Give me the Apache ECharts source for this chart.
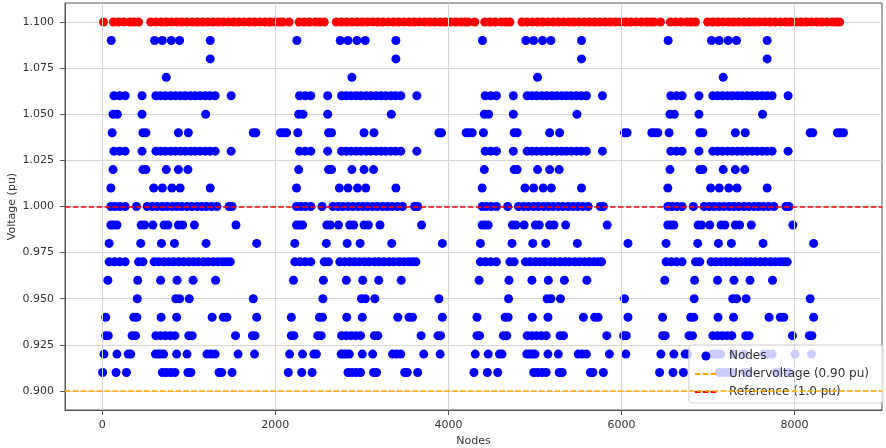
<!DOCTYPE html>
<html>
<head>
<meta charset="utf-8">
<script src="https://cdn.jsdelivr.net/npm/echarts@6/dist/echarts.min.js"></script>
<style>
html,body{margin:0;padding:0;background:#fff;}
#chart{width:886px;height:448px;}
</style>
</head>
<body>
<div id="chart"></div>
<script>
// ---- Data (node index positions, per voltage level) ----
const xTicks = [0, 2000, 4000, 6000, 8000];
const yTicks = [0.900, 0.925, 0.950, 0.975, 1.000, 1.025, 1.050, 1.075, 1.100];

const undervoltage = 0.90;
const reference = 1.0;

// nodes at 1.10 pu (drawn red)
const x110 = [15,130,190,250,320,370,420,560,620,680,740,800,860,920,980,1040,1100,1160,1220,1280,1340,1400,1460,1520,1580,1640,1700,1760,1820,1880,1940,2000,2050,2085,
  2160,2275,2335,2395,2465,2515,2565,2705,2765,2825,2885,2945,3005,3065,3125,3185,3245,3305,3365,3425,3485,3545,3605,3665,3725,3785,3845,3905,3965,4025,4085,4145,4195,4230,
  4305,4420,4480,4540,4610,4660,4710,4850,4910,4970,5030,5090,5150,5210,5270,5330,5390,5450,5510,5570,5630,5690,5750,5810,5870,5930,5990,6050,6110,6170,6230,6290,6340,6375,
  6450,6565,6625,6685,6755,6805,6855,6995,7055,7115,7175,7235,7295,7355,7415,7475,7535,7595,7655,7715,7775,7835,7895,7955,8015,8075,8135,8195,8255,8315,8375,8435,8485,8520];

const x109 = [104,605,694,798,894,1248, 2249,2750,2839,2943,3039,3393, 4394,4895,4984,5088,5184,5538, 6539,7040,7129,7233,7329,7683];
const x108 = [1248, 3393, 5538, 7683];
const x107 = [740, 2885, 5030, 7175];
const x106 = [135,200,265,460,620,675,730,790,845,905,960,1020,1075,1130,1190,1245,1305,1490,
  2280,2345,2410,2605,2765,2820,2875,2935,2990,3050,3105,3165,3220,3275,3335,3390,3450,3635,
  4425,4490,4555,4750,4910,4965,5020,5080,5135,5195,5250,5310,5365,5420,5480,5535,5595,5780,
  6570,6635,6700,6895,7055,7110,7165,7225,7280,7340,7395,7455,7510,7565,7625,7680,7740,7925];
const x105 = [125,175,460,1195, 2270,2320,2605,3340, 4415,4465,4750,5485, 6560,6610,6895,7630];
const x104 = [115,470,505,880,995,1745,1775,2060,2095,2130,
  2260,2615,2650,3025,3140,3890,3920,4205,4240,4275,
  4405,4760,4795,5170,5285,6035,6065,6350,6385,6420,
  6550,6905,6940,7315,7430,8180,8210,8495,8530,8565];
const x103 = [135,200,265,460,620,675,730,790,845,905,960,1020,1075,1130,1190,1245,1305,1490,
  2280,2345,2410,2605,2765,2820,2875,2935,2990,3050,3105,3165,3220,3275,3335,3390,3450,3635,
  4425,4490,4555,4750,4910,4965,5020,5080,5135,5195,5250,5310,5365,5420,5480,5535,5595,5780,
  6570,6635,6700,6895,7055,7110,7165,7225,7280,7340,7395,7455,7510,7565,7625,7680,7740,7925];
const x102 = [125,470,505,740,880,990, 2270,2615,2650,2885,3025,3135, 4415,4760,4795,5030,5170,5280, 6560,6905,6940,7175,7315,7425];
const x101 = [100,595,695,805,900,1248, 2245,2740,2840,2950,3045,3393, 4390,4885,4985,5095,5190,5538, 6535,7030,7130,7240,7335,7683];
const x100 = [100,150,205,265,395,520,580,635,695,750,810,865,920,980,1035,1095,1150,1205,1265,1325,1465,1500,
  2245,2295,2350,2410,2540,2665,2725,2780,2840,2895,2955,3010,3065,3125,3180,3240,3295,3350,3410,3470,3610,3645,
  4390,4440,4495,4555,4685,4810,4870,4925,4985,5040,5100,5155,5210,5270,5325,5385,5440,5495,5555,5615,5755,5790,
  6535,6585,6640,6700,6830,6955,7015,7070,7130,7185,7245,7300,7355,7415,7470,7530,7585,7640,7700,7760,7900,7935];
const x099 = [100,135,170,450,490,585,715,760,880,930,1065,1545,
  2245,2280,2315,2595,2635,2730,2860,2905,3025,3075,3210,3690,
  4390,4425,4460,4740,4780,4875,5005,5050,5170,5220,5355,5835,
  6535,6570,6605,6885,6925,7020,7150,7195,7315,7365,7500,7980];
const x098 = [80,445,685,835,1200,1785, 2225,2590,2830,2980,3345,3930, 4370,4735,4975,5125,5490,6075, 6515,6880,7120,7270,7635,8220];
const x097 = [80,140,200,265,420,470,600,655,715,770,825,885,940,1000,1055,1110,1170,1225,1285,1340,1395,1440,1480,
  2225,2285,2345,2410,2565,2615,2745,2800,2860,2915,2970,3030,3085,3145,3200,3255,3315,3370,3430,3485,3540,3585,3625,
  4370,4430,4490,4555,4710,4760,4890,4945,5005,5060,5115,5175,5230,5290,5345,5400,5460,5515,5575,5630,5685,5730,5770,
  6515,6575,6635,6700,6855,6905,7035,7090,7150,7205,7260,7320,7375,7435,7490,7545,7605,7660,7720,7775,7830,7875,7915];
const x096 = [65,410,675,865,1050,1310, 2210,2555,2820,3010,3195,3455, 4355,4700,4965,5155,5340,5600, 6500,6845,7110,7300,7485,7745];
const x095 = [405,850,895,1005,1745, 2550,2995,3040,3150,3890, 4695,5140,5185,5295,6035, 6840,7285,7330,7440,8180];
const x094 = [40,365,400,680,860,1270,1400,1440,1785,
  2185,2510,2545,2825,3005,3415,3545,3585,3930,
  4330,4655,4690,4970,5150,5560,5690,5730,6075,
  6475,6800,6835,7115,7295,7705,7835,7875,8220];
const x093 = [40,70,345,385,620,675,730,785,840,1000,1040,1540,1735,1765,
  2185,2215,2490,2530,2765,2820,2875,2930,2985,3145,3185,3685,3880,3910,
  4330,4360,4635,4675,4910,4965,5020,5075,5130,5290,5330,5830,6025,6055,
  6475,6505,6780,6820,7055,7110,7165,7220,7275,7435,7475,7975,8170,8200];
const x092 = [20,170,300,330,615,645,675,710,860,980,1210,1255,1305,1570,1760,
  2165,2315,2445,2475,2760,2790,2820,2855,3005,3125,3355,3400,3450,3715,3905,
  4310,4460,4590,4620,4905,4935,4965,5000,5150,5270,5500,5545,5595,5860,6050,
  6455,6605,6735,6765,7050,7080,7110,7145,7295,7415,7645,7690,7740,8005,8195];
const x091 = [5,160,280,695,740,790,840,990,1025,1350,1380,1500,
  2150,2305,2425,2840,2885,2935,2985,3135,3170,3495,3525,3645,
  4295,4450,4570,4985,5030,5080,5130,5280,5315,5640,5670,5790,
  6440,6595,6715,7130,7175,7225,7275,7425,7460,7785,7815,7935];

const blueLevels = [
  [1.09, x109],[1.08, x108],[1.07, x107],[1.06, x106],[1.05, x105],[1.04, x104],[1.03, x103],
  [1.02, x102],[1.01, x101],[1.00, x100],[0.99, x099],[0.98, x098],[0.97, x097],[0.96, x096],
  [0.95, x095],[0.94, x094],[0.93, x093],[0.92, x092],[0.91, x091]
];

const blueData = [];
blueLevels.forEach(([v, xs]) => xs.forEach(x => blueData.push([x, v])));
const redData = x110.map(x => [x, 1.10]);

const chart = echarts.init(document.getElementById('chart'), null, {renderer: 'canvas'});
const axisColor = '#555';
const gridColor = '#d4d4d4';
const font = 'DejaVu Sans';

chart.setOption({
  animation: false,
  backgroundColor: '#ffffff',
  grid: {left: 65, right: 4, top: 3, bottom: 38, show: true, borderColor: axisColor, borderWidth: 1,
         backgroundColor: 'transparent', containLabel: false, outerBoundsMode: 'none'},
  xAxis: {
    type: 'value', min: -430, max: 9010,
    name: 'Nodes', nameLocation: 'middle', nameGap: 26, nameMoveOverlap: false,
    nameTextStyle: {fontFamily: font, fontSize: 11, color: '#333'},
    axisLine: {show: true, onZero: false, lineStyle: {color: axisColor}},
    axisTick: {show: true, length: 5, lineStyle: {color: axisColor}, customValues: xTicks},
    axisLabel: {fontFamily: font, fontSize: 11, color: '#333', margin: 10, customValues: xTicks, formatter: v => String(v)},
    splitLine: {show: false}
  },
  yAxis: {
    type: 'value', min: 0.8897, max: 1.1103,
    name: 'Voltage (pu)', nameLocation: 'middle', nameGap: 47, nameRotate: 90, nameMoveOverlap: false,
    nameTextStyle: {fontFamily: font, fontSize: 11, color: '#333'},
    axisLine: {show: true, onZero: false, lineStyle: {color: axisColor}},
    axisTick: {show: true, length: 5, lineStyle: {color: axisColor}, customValues: yTicks},
    axisLabel: {fontFamily: font, fontSize: 11, color: '#333', margin: 11, customValues: yTicks, formatter: v => v.toFixed(3)},
    splitLine: {show: true, lineStyle: {color: gridColor, width: 1}}
  },
  legend: {
    orient: 'vertical', right: 3, top: 345,
    data: [
      {name: 'Nodes', icon: 'circle'},
      {name: 'Undervoltage (0.90 pu)', itemStyle: {opacity: 0}},
      {name: 'Reference (1.0 pu)', itemStyle: {opacity: 0}}
    ],
    itemWidth: 22, itemHeight: 9, itemGap: 6,
    padding: [5, 14, 5, 5],
    backgroundColor: 'rgba(255,255,255,0.8)',
    borderColor: '#cccccc', borderWidth: 1, borderRadius: 3,
    textStyle: {fontFamily: font, fontSize: 12, color: '#333', padding: [0, 0, 0, 7]}
  },
  series: [
    {
      name: 'Grid', type: 'line', data: [], silent: true, symbol: 'none',
      markLine: {
        silent: true, symbol: 'none', label: {show: false}, animation: false,
        lineStyle: {color: gridColor, width: 1, type: 'solid'},
        data: xTicks.map(t => ({xAxis: t}))
      },
      z: 0
    },
    {
      name: 'Nodes', type: 'scatter', data: blueData, symbol: 'circle', symbolSize: 9,
      itemStyle: {color: '#0000ff', opacity: 1}, z: 2
    },
    {
      name: 'Nodes at 1.10 pu', type: 'scatter', data: redData, symbol: 'circle', symbolSize: 9,
      itemStyle: {color: '#ff0000', opacity: 1}, z: 2
    },
    {
      name: 'Undervoltage (0.90 pu)', type: 'line', data: [], symbol: 'none',
      lineStyle: {color: '#ffa500', width: 1.5, type: [5.5, 2.4]},
      itemStyle: {color: '#ffa500'},
      markLine: {
        silent: true, symbol: 'none', label: {show: false}, animation: false,
        lineStyle: {color: '#ffa500', width: 1.5, type: [5.5, 2.4]},
        data: [{yAxis: undervoltage}]
      },
      z: 3
    },
    {
      name: 'Reference (1.0 pu)', type: 'line', data: [], symbol: 'none',
      lineStyle: {color: '#ff0000', width: 1.5, type: [5.5, 2.4]},
      itemStyle: {color: '#ff0000'},
      markLine: {
        silent: true, symbol: 'none', label: {show: false}, animation: false,
        lineStyle: {color: '#ff0000', width: 1.5, type: [5.5, 2.4]},
        data: [{yAxis: reference}]
      },
      z: 3
    }
  ]
});
</script>
</body>
</html>
